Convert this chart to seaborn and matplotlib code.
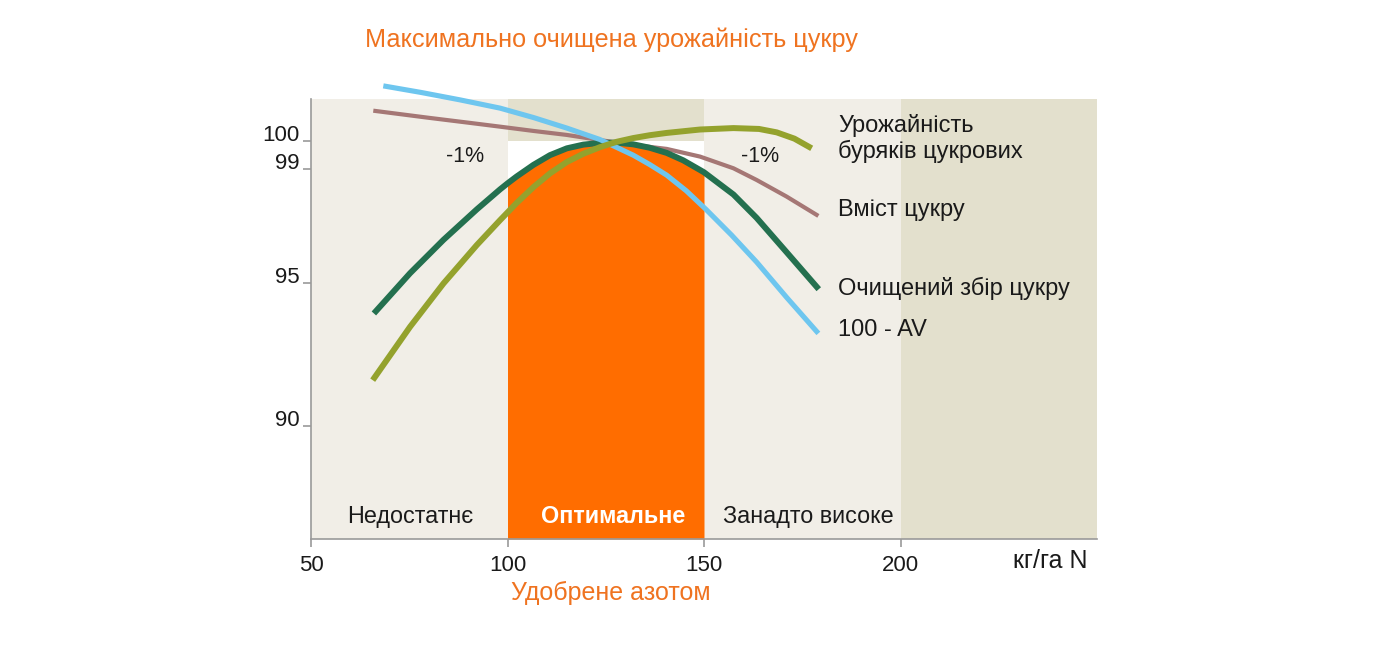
import seaborn as sns
import matplotlib.pyplot as plt
from matplotlib.transforms import blended_transform_factory

# --- data ---
x_refined = [66.0, 75.2, 83.7, 92.2, 98.1, 100.0, 102.3, 106.6, 110.8, 115.1, 119.3, 123.5, 127.7, 132.0,
             136.2, 140.5, 144.7, 149.0, 150.0, 157.5, 163.4, 171.0, 179.2]
y_refined = [93.95, 95.36, 96.53, 97.6, 98.3, 98.51, 98.75, 99.16, 99.5, 99.74, 99.87, 99.93, 99.94, 99.88,
             99.76, 99.58, 99.32, 98.98, 98.9, 98.12, 97.3, 96.1, 94.8]

x_yield = [65.7, 75.2, 83.7, 92.2, 98.1, 102.3, 106.6, 110.8, 115.1, 119.3, 123.5, 127.8, 132.0, 136.2,
           140.5, 149.0, 157.5, 164.0, 168.5, 173.0, 177.4]
y_yield = [91.61, 93.48, 95.0, 96.35, 97.22, 97.82, 98.38, 98.86, 99.26, 99.55, 99.78, 99.97, 100.1, 100.2,
           100.28, 100.4, 100.45, 100.42, 100.3, 100.08, 99.74]

x_sugar = [65.85, 80.0, 90.0, 98.1, 106.6, 115.1, 123.5, 132.0, 140.5, 149.0, 157.5, 163.4, 171.0, 179.1]
y_sugar = [101.06, 100.81, 100.64, 100.5, 100.35, 100.21, 100.03, 99.86, 99.72, 99.45, 99.04, 98.63, 98.05, 97.37]

x_av = [68.4, 78.0, 87.9, 98.1, 106.6, 115.1, 123.5, 132.0, 136.2, 140.5, 145.5, 150.5, 157.0, 163.4, 171.1, 179.1]
y_av = [101.93, 101.7, 101.44, 101.15, 100.82, 100.45, 100.05, 99.5, 99.17, 98.8, 98.25, 97.6, 96.7, 95.75, 94.5, 93.25]

zones = [(50, 100), (100, 150), (150, 200), (200, 250)]
zone_labels = ["Недостатнє", "Оптимальне", "Занадто високе"]
zone_label_x = [75.2, 126.8, 176.6]

y_ticks = [90, 95, 99, 100]
x_ticks = [50, 100, 150, 200]

series_labels = ["Урожайність\nбуряків цукрових", "Вміст цукру", "Очищений збір цукру", "100 - AV"]
series_label_y = [100.07, 97.58, 94.84, 93.37]

ORANGE = "#FF6D00"
TEXT_ORANGE = "#EF7320"
LIGHT = "#F1EEE7"
TAN = "#E3E0CD"
INK = "#1a1a1a"

sns.set_style("white")
plt.rcParams['font.family'] = ['Liberation Sans', 'DejaVu Sans']

fig = plt.figure(figsize=(13.77, 6.48), dpi=100)
ax = fig.add_axes([311/1377, 1-539/648, 786/1377, 440/648])
ymin, ymax = 86.04, 101.47
ax.set_xlim(50, 250)
ax.set_ylim(ymin, ymax)

# background zones
ax.axvspan(zones[0][0], zones[0][1], color=LIGHT, lw=0, zorder=0)
ax.axvspan(zones[1][0], zones[1][1], color="white", lw=0, zorder=0)
ax.fill_between([zones[1][0], zones[1][1]], 100, ymax, color=TAN, lw=0, zorder=0)
ax.axvspan(zones[2][0], zones[2][1], color=LIGHT, lw=0, zorder=0)
ax.axvspan(zones[3][0], zones[3][1], color=TAN, lw=0, zorder=0)

# orange under the refined sugar curve inside the optimal zone
opt = [(x, y) for x, y in zip(x_refined, y_refined) if zones[1][0] <= x <= zones[1][1]]
ax.fill_between([p[0] for p in opt], ymin, [p[1] for p in opt], color=ORANGE, lw=0, zorder=1)

# curves
sns.lineplot(x=x_sugar, y=y_sugar, color="#A57775", linewidth=3.0, ax=ax, zorder=3)
sns.lineplot(x=x_refined, y=y_refined, color="#24704F", linewidth=4.3, ax=ax, zorder=4)
sns.lineplot(x=x_av, y=y_av, color="#6EC6EF", linewidth=3.7, ax=ax, zorder=5)
sns.lineplot(x=x_yield, y=y_yield, color="#94A22D", linewidth=4.3, ax=ax, zorder=6)
for ln in ax.lines:
    ln.set_clip_on(False)
    ln.set_solid_capstyle("butt")
    ln.set_solid_joinstyle("round")

# zone labels
for i, lab in enumerate(zone_labels):
    if i == 1:
        ax.text(zone_label_x[i], 86.84, lab, ha="center", va="center", fontsize=16.8,
                color="white", fontweight="bold", zorder=7)
    else:
        ax.text(zone_label_x[i], 86.84, lab, ha="center", va="center", fontsize=16.8,
                color=INK, zorder=7)

ax.text(89.2, 99.44, "-1%", ha="center", va="center", fontsize=15.5, color=INK)
ax.text(164.3, 99.44, "-1%", ha="center", va="center", fontsize=15.5, color=INK)

for lab, yy in zip(series_labels, series_label_y):
    ax.text(184.1, yy, lab, ha="left", va="center", fontsize=17, color=INK,
            linespacing=1.15, zorder=7)

# axes styling
for s in ["top", "right"]:
    ax.spines[s].set_visible(False)
for s in ["left", "bottom"]:
    ax.spines[s].set_color("#9a9a9a")
    ax.spines[s].set_linewidth(1.2)
ax.set_xticks(x_ticks)
ax.set_xticklabels([str(t) for t in x_ticks])
ax.set_yticks(y_ticks)
ax.set_yticklabels([str(t) for t in y_ticks])
ax.tick_params(axis="both", which="major", length=5.5, width=1.2, color="#9a9a9a",
               labelsize=16, labelcolor=INK, direction="out")
ax.tick_params(axis="x", pad=6)
ax.tick_params(axis="y", pad=3)
ax.xaxis.set_ticks_position("bottom")
ax.yaxis.set_ticks_position("left")
for t in ax.get_yticklabels():
    t.set_va("baseline")
ax.grid(False)

trans = blended_transform_factory(ax.transData, ax.transAxes)
ax.text(247.5, -0.05, "кг/га N", transform=trans, ha="right", va="center", fontsize=18,
        color=INK, clip_on=False)

fig.text(611/1377, 1-40/648, "Максимально очищена урожайність цукру", ha="center",
         va="center", fontsize=18.2, color=TEXT_ORANGE)
fig.text(611/1377, 1-593/648, "Удобрене азотом", ha="center", va="center",
         fontsize=18, color=TEXT_ORANGE)

fig.savefig("out.png", dpi=100)
plt.close()
